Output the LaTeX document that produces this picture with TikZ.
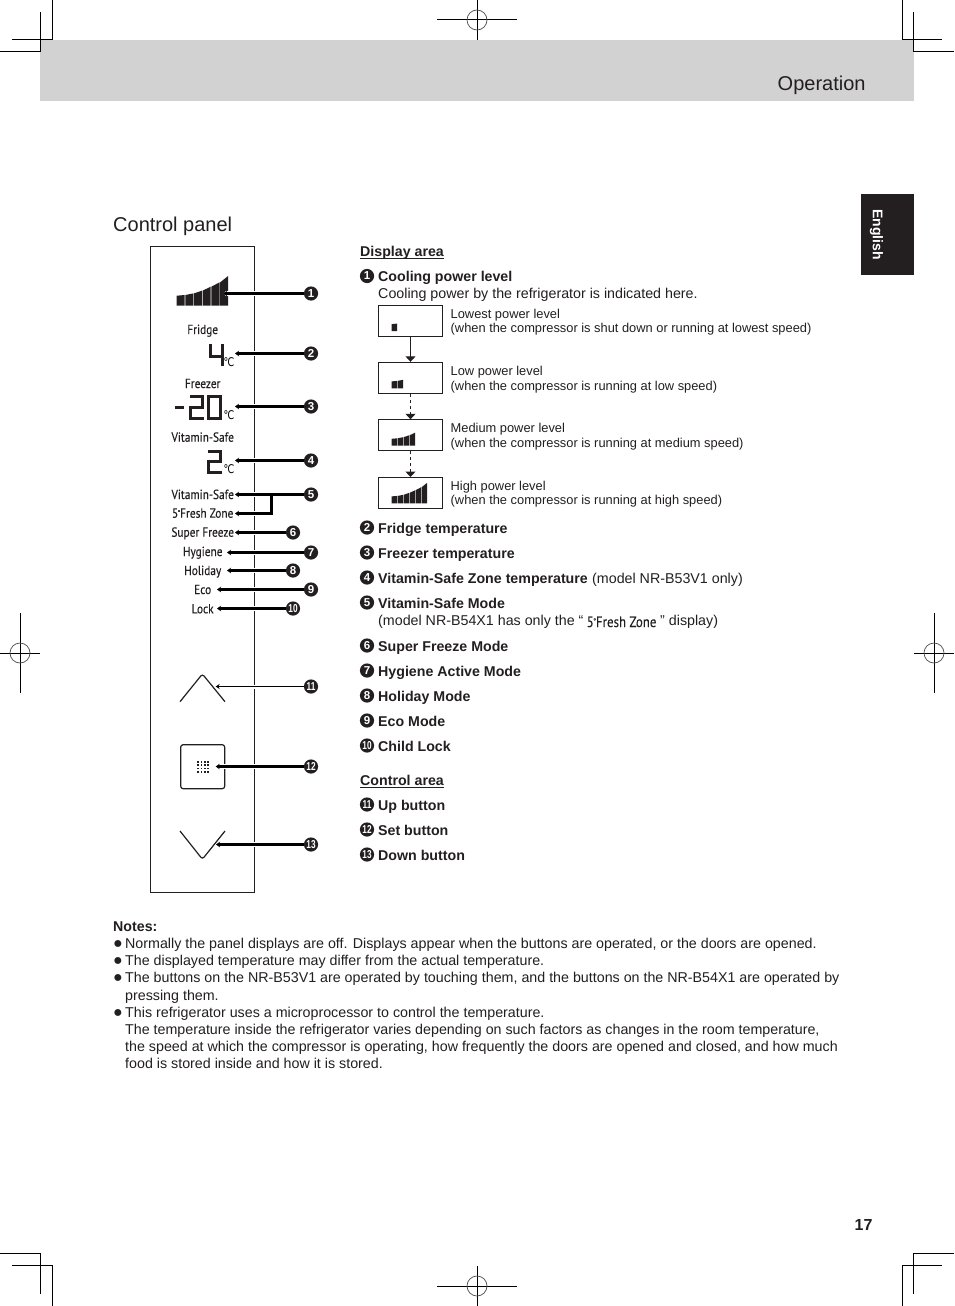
\documentclass[tikz,border=0pt]{standalone}
\usepackage{fontspec}
\setmainfont{Liberation Sans}
\newfontfamily\panelf[FakeStretch=0.86,FakeBold=0.15]{PT Sans}
\newfontfamily\dejav{DejaVu Sans}
\usetikzlibrary{arrows.meta}
\definecolor{ink}{HTML}{231F20}
\definecolor{band}{HTML}{D2D2D2}
\newcount\tn
\newcommand\tx[4][]{\global\advance\tn by 1 \node[txt,#1] (tx\the\tn) at (#2,#3) {#4};}
\newcommand\bd[3]{\tx[font=\fontsize{14.2}{17}\selectfont\bfseries]{#1}{#2}{#3}}
\newcommand\rg[3]{\tx{#1}{#2}{#3}}
\newcommand\sm[3]{\tx[font=\fontsize{12.85}{15}\selectfont]{#1}{#2}{#3}}
\newcommand\ulin[1]{\setbox0\hbox{#1}\rlap{\rule[-3.2pt]{\wd0}{1pt}}\box0 }
\newcommand\numtxt[1]{\scalebox{0.72}[1]{#1}}
\newcommand\bul{\hbox to 12pt{\fontsize{16}{16}\selectfont\raisebox{-0.6pt}{●}\hss}}
\newcommand\plabel[4]{\node[plab] (#1) at (#2,#3) {#4};}
\newcommand\pdeg{\kern-.5pt\raisebox{.22em}{\fontsize{.5em}{.5em}\selectfont°}}
\newcommand\celsius[3]{\node[inner sep=0,font=\dejav\fontsize{12}{12}\selectfont] (#1) at (#2,#3) {\scalebox{.8}[1]{℃}};}
\newcommand\barsicon[4]{%
  \begin{scope}[shift={(#1,#2)},scale=#3]
  \foreach \a/\b/\ha/\hb [count=\i] in {0/8.0/10/10.7,8.6/16.6/10.7/12.3,17.2/25.2/12.3/15,25.8/34/15/19,34.6/42.8/19/23.3,43.4/51.4/23.3/29.7}{
    \ifnum\i>#4\relax\else \fill[ink] (\a,0) -- (\b,0) -- (\b,-\hb) -- (\a,-\ha) -- cycle;\fi}
  \end{scope}}
\tikzset{
  txt/.style={anchor=base west,inner sep=0,text=ink,font=\fontsize{14.26}{17}\selectfont},
  plab/.style={anchor=base,inner sep=0,text=ink,font=\panelf\fontsize{13.2}{15}\selectfont},
  crop/.style={draw=black,line width=1pt},
  reg/.style={draw=black!70,line width=.7pt},
  num/.style={circle,fill=ink,text=white,inner sep=0,minimum size=14.2pt,font=\fontsize{11.5}{11.5}\selectfont\bfseries},
  halo/.style={draw=white,line width=4.5pt},
  plainout/.style={draw=black,line width=2.3pt,{Stealth[length=4pt,width=5.5pt]}-},
  callout/.style={plainout,preaction={draw=white,line width=4.8pt}},
  thinout/.style={draw=black,line width=1.4pt,{Stealth[length=4pt,width=5pt]}-,preaction={draw=white,line width=4pt}},
  seg/.style={draw=ink,line width=3pt,line join=miter},
  lvl/.style={draw=ink,line width=1pt,minimum width=64.4pt,minimum height=31pt,inner sep=0},
  lvlarrow/.style={draw=ink,line width=1pt,-{Triangle[length=5.5pt,width=10pt]}},
}
\begin{document}
\begin{tikzpicture}[x=1pt,y=-1pt]
\useasboundingbox (0,0) rectangle (954,1306);
\fill[white] (0,0) rectangle (954,1306);
% header
\fill[band] (40,40) rectangle (914,101);
\node[txt,font=\fontsize{20}{24}\selectfont] (oper) at (777.5,90) {Operation};
\fill[ink] (861,194) rectangle (914,275);
\node[inner sep=0,rotate=-90,text=white,font=\fontsize{14}{14}\selectfont\bfseries] (lang) at (876.5,234.5) {English};
\node[txt,font=\fontsize{20}{24}\selectfont] (ctrl) at (113,231) {Control panel};
% crop marks
\draw[crop] (52,0) -- (52,40) -- (12,40) (40,12) -- (40,52) -- (0,52);
\draw[crop] (902,0) -- (902,40) -- (942,40) (913.5,12) -- (913.5,52) -- (954,52);
\draw[crop] (0,1253.5) -- (40,1253.5) -- (40,1293.5) (12,1265) -- (52,1265) -- (52,1306);
\draw[crop] (954,1253.5) -- (913.5,1253.5) -- (913.5,1293.5) (942,1265) -- (902,1265) -- (902,1306);
\draw[crop] (437,20) -- (517,20) (477,0) -- (477,40);
\draw[reg] (477,20) circle[radius=10];
\draw[crop] (437,1286) -- (517,1286) (477,1266) -- (477,1306);
\draw[reg] (477,1286) circle[radius=10];
\draw[crop] (0,653) -- (40,653) (20,613) -- (20,693);
\draw[reg] (20,653) circle[radius=10];
\draw[crop] (914,653) -- (954,653) (934,613) -- (934,693);
\draw[reg] (934,653) circle[radius=10];
% panel
\draw[draw=ink,line width=1pt] (150.5,246.5) rectangle (254.5,892);
\barsicon{176.7}{305.7}{1}{6}
\plabel{lfr}{202.7}{334}{Fridge}
\plabel{lfz}{202.7}{388}{Freezer}
\plabel{lvs}{202.7}{441.7}{Vitamin-Safe}
\draw[seg] (210.3,344) -- (210.3,356.5) -- (222,356.5) (222,344) -- (222,366);
\celsius{cfr}{229}{362}
\draw[seg] (175,407.5) -- (184.3,407.5);
\draw[seg] (189.5,396.5) -- (202.5,396.5) -- (202.5,407.5) -- (190.5,407.5) -- (190.5,418.7) -- (204,418.7);
\draw[seg] (208.5,396.5) rectangle (220.7,418.7);
\celsius{cfz}{229}{415.5}
\draw[seg] (207.5,451.5) -- (220.5,451.5) -- (220.5,461.5) -- (208.5,461.5) -- (208.5,472) -- (222,472);
\celsius{cvs}{229}{469.5}
\plabel{l5a}{202.7}{499}{Vitamin-Safe}
\plabel{l5b}{202.7}{517.7}{5\pdeg Fresh Zone}
\plabel{l6}{202.7}{536.7}{Super Freeze}
\plabel{l7}{202.7}{556}{Hygiene}
\plabel{l8}{202.7}{575}{Holiday}
\plabel{l9}{202.7}{594}{Eco}
\plabel{l10}{202.7}{613.3}{Lock}
\draw[draw=ink,line width=1.2pt,rounded corners=2.5pt] (180,701.7) -- (202.4,674) -- (225,701.7);
\node[draw=ink,line width=1.2pt,rounded corners=2.5pt,minimum size=44pt,inner sep=0] (setb) at (202.7,766.7) {};
\foreach \i in {0,1,2,3}{\foreach \j in {0,1,2,3}{\fill[ink] (197.4+\i*3.3,761+\j*3.3) rectangle +(1.7,1.7);}}
\draw[draw=ink,line width=1.2pt,rounded corners=2.5pt] (180,831) -- (202.4,859.2) -- (225,831);
% callout numbers
\foreach \n/\x/\y in {1/311/293.5,2/311/353.5,3/311/406.5,4/311/460.5,5/311/494.5,6/293/532.5,7/311/552.5,8/293/570.5,9/311/589.5,10/293/608.5,11/311/686.5,12/311/766.5,13/311/844.5}{
  \node[num] (c\n) at (\x,\y) {\ifnum\n>9 \numtxt{\n}\else\n\fi};}
% connector ends
\coordinate (t1) at (223,293.5);
\coordinate (t2) at (235,353.5);
\coordinate (t3) at (235,406.5);
\coordinate (t4) at (235,460.5);
\coordinate (t5) at (235,494.5);
\coordinate (t5b) at (235,513.5);
\coordinate (j5) at (271.5,513.5);
\coordinate (k5) at (271.5,494.5);
\coordinate (t6) at (235,532.5);
\coordinate (t7) at (227,552.5);
\coordinate (t8) at (227,570.5);
\coordinate (t9) at (217,589.5);
\coordinate (t10) at (217,608.5);
\coordinate (t11) at (215.7,686.5);
\coordinate (t12) at (215.7,766.5);
\coordinate (t13) at (216,844.5);
\draw[callout] (t1) -- (c1);
\draw[callout] (t2) -- (c2);
\draw[callout] (t3) -- (c3);
\draw[callout] (t4) -- (c4);
\path[halo] (t5b) -- (j5) -- (k5);
\draw[callout] (t5) -- (c5);
\draw[plainout] (t5b) -- (j5) -- (k5);
\draw[callout] (t6) -- (c6);
\draw[callout] (t7) -- (c7);
\draw[callout] (t8) -- (c8);
\draw[callout] (t9) -- (c9);
\draw[callout] (t10) -- (c10);
\draw[thinout] (t11) -- (c11);
\draw[callout] (t12) -- (c12);
\draw[callout] (t13) -- (c13);
% right column
\bd{360}{256}{\ulin{Display area}}
\node[num] (n1) at (367,276) {1};
\bd{378}{281}{Cooling power level}
\rg{378}{298}{Cooling power by the refrigerator is indicated here.}
\node[lvl] (b1) at (410.5,321.2) {};
\node[lvl] (b2) at (410.5,377.8) {};
\node[lvl] (b3) at (410.5,435.3) {};
\node[lvl] (b4) at (410.5,493) {};
\barsicon{391.7}{331}{0.69}{1}
\barsicon{391.7}{388.3}{0.69}{2}
\barsicon{391.7}{445.7}{0.69}{4}
\barsicon{391.7}{503.3}{0.69}{6}
\draw[lvlarrow] (b1.south) -- (b2.north);
\draw[lvlarrow,dashed] (b2.south) -- (b3.north);
\draw[lvlarrow,dashed] (b3.south) -- (b4.north);
\sm{450.5}{318}{Lowest power level}
\sm{450.5}{332}{(when the compressor is shut down or running at lowest speed)}
\sm{450.5}{375}{Low power level}
\sm{450.5}{390}{(when the compressor is running at low speed)}
\sm{450.5}{432}{Medium power level}
\sm{450.5}{447}{(when the compressor is running at medium speed)}
\sm{450.5}{490}{High power level}
\sm{450.5}{504}{(when the compressor is running at high speed)}
\node[num] (n2) at (367,527.5) {2};
\bd{378}{533}{Fridge temperature}
\node[num] (n3) at (367,552.5) {3};
\bd{378}{558}{Freezer temperature}
\node[num] (n4) at (367,577.5) {4};
\bd{378}{583}{Vitamin-Safe Zone temperature}
\rg{592}{583}{(model NR-B53V1 only)}
\node[num] (n5) at (367,602.5) {5};
\bd{378}{608}{Vitamin-Safe Mode}
\rg{378}{625}{(model NR-B54X1 has only the “}
\node[plab,anchor=base west,font=\panelf\fontsize{15}{17}\selectfont] (l5c) at (586.5,627) {5\pdeg Fresh Zone};
\rg{660}{625}{” display)}
\node[num] (n6) at (367,645.5) {6};
\bd{378}{651}{Super Freeze Mode}
\node[num] (n7) at (367,670.5) {7};
\bd{378}{676}{Hygiene Active Mode}
\node[num] (n8) at (367,695.5) {8};
\bd{378}{701}{Holiday Mode}
\node[num] (n9) at (367,720.5) {9};
\bd{378}{726}{Eco Mode}
\node[num] (n10) at (367,745.5) {\numtxt{10}};
\bd{378}{751}{Child Lock}
\bd{360}{785}{\ulin{Control area}}
\node[num] (n11) at (367,804.5) {\numtxt{11}};
\bd{378}{810}{Up button}
\node[num] (n12) at (367,829.5) {\numtxt{12}};
\bd{378}{835}{Set button}
\node[num] (n13) at (367,854.5) {\numtxt{13}};
\bd{378}{860}{Down button}
% notes
\bd{113}{931}{Notes:}
\rg{113}{948}{\bul Normally the panel displays are off. Displays appear when the buttons are operated, or the doors are opened.}
\rg{113}{965}{\bul The displayed temperature may differ from the actual temperature.}
\rg{113}{982}{\bul The buttons on the NR-B53V1 are operated by touching them, and the buttons on the NR-B54X1 are operated by}
\rg{125}{1000}{pressing them.}
\rg{113}{1017}{\bul This refrigerator uses a microprocessor to control the temperature.}
\rg{125}{1034}{The temperature inside the refrigerator varies depending on such factors as changes in the room temperature,}
\rg{125}{1051}{the speed at which the compressor is operating, how frequently the doors are opened and closed, and how much}
\rg{125}{1068}{food is stored inside and how it is stored.}
\node[txt,font=\fontsize{16}{18}\selectfont\bfseries] (page) at (854.5,1230) {17};
\end{tikzpicture}
\end{document}
